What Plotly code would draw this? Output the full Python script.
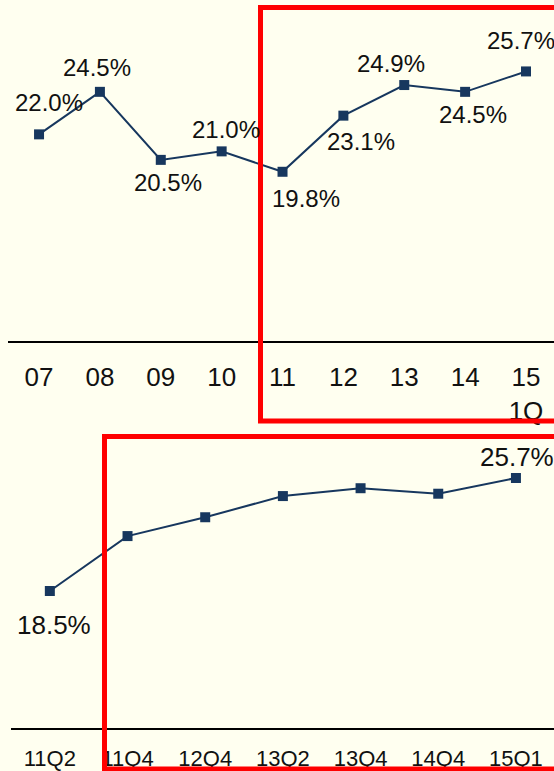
import plotly.graph_objects as go

# ---- data ----
years = ["07", "08", "09", "10", "11", "12", "13", "14", "15"]
year_ticks = ["07", "08", "09", "10", "11", "12", "13", "14", "15<br>1Q"]
year_vals = [22.0, 24.5, 20.5, 21.0, 19.8, 23.1, 24.9, 24.5, 25.7]

quarters = ["11Q2", "11Q4", "12Q4", "13Q2", "13Q4", "14Q4", "15Q1"]
quarter_vals = [18.5, 22.0, 23.2, 24.55, 25.05, 24.7, 25.7]
quarter_labeled = [True, False, False, False, False, False, True]

# label offsets (pixels) - styling only
year_offsets = [(10, -32), (-3, -24), (7, 23), (4, -22), (23, 27), (18, 26), (-13, -22), (8, 23), (-5, -31)]
quarter_offsets = [(4, 34), None, None, None, None, None, (1, -21)]

W, H = 554, 771
BG = "#FFFFF0"
LINE = "#17375E"
FONT = "Arial, Liberation Sans, sans-serif"

fig = go.Figure()
fig.add_trace(go.Scatter(x=list(range(len(years))), y=year_vals, mode="lines+markers",
                         line=dict(color=LINE, width=2),
                         marker=dict(symbol="square", size=10, color=LINE),
                         xaxis="x", yaxis="y", showlegend=False, hoverinfo="skip"))
fig.add_trace(go.Scatter(x=list(range(len(quarters))), y=quarter_vals, mode="lines+markers",
                         line=dict(color=LINE, width=2),
                         marker=dict(symbol="square", size=10, color=LINE),
                         xaxis="x2", yaxis="y2", showlegend=False, hoverinfo="skip"))

ann = []
for i, (v, off) in enumerate(zip(year_vals, year_offsets)):
    ann.append(dict(x=i, y=v, xref="x", yref="y", text=f"{v:.1f}%", showarrow=False,
                    xshift=off[0], yshift=-off[1], font=dict(size=24, color="#111", family=FONT)))
for i, (v, lab, off) in enumerate(zip(quarter_vals, quarter_labeled, quarter_offsets)):
    if lab:
        ann.append(dict(x=i, y=v, xref="x2", yref="y2", text=f"{v:.1f}%", showarrow=False,
                        xshift=off[0], yshift=-off[1], font=dict(size=26, color="#111", family=FONT)))

fig.update_layout(
    width=W, height=H, margin=dict(l=0, r=0, t=0, b=0),
    paper_bgcolor=BG, plot_bgcolor=BG,
    annotations=ann,
    xaxis=dict(domain=[8 / W, 1], range=[-0.51, 8.46],
               tickvals=list(range(len(years))), ticktext=year_ticks,
               showline=True, linecolor="black", linewidth=2, showgrid=False, zeroline=False,
               ticks="outside", ticklen=12, tickcolor=BG,
               tickfont=dict(size=26, color="#111", family=FONT), anchor="y"),
    yaxis=dict(domain=[1 - 341 / H, 1], range=[9.85, 29.9], visible=False, anchor="x"),
    xaxis2=dict(domain=[11 / W, 1], range=[-0.50, 6.49],
                tickvals=list(range(len(quarters))), ticktext=quarters,
                showline=True, linecolor="black", linewidth=2, showgrid=False, zeroline=False,
                ticks="outside", ticklen=10, tickcolor=BG,
                tickfont=dict(size=22, color="#111", family=FONT), anchor="y2"),
    yaxis2=dict(domain=[1 - 728 / H, 1 - 414 / H], range=[9.77, 29.78], visible=False, anchor="x2"),
)

# red highlight boxes
fig.add_shape(type="rect", xref="paper", yref="paper",
              x0=260.5 / W, x1=1.05, y0=1 - 421 / H, y1=1 - 7.5 / H,
              line=dict(color="#FF0000", width=5), fillcolor="rgba(0,0,0,0)")
fig.add_shape(type="rect", xref="paper", yref="paper",
              x0=104.5 / W, x1=1.05, y0=1 - 769 / H, y1=1 - 436.5 / H,
              line=dict(color="#FF0000", width=5), fillcolor="rgba(0,0,0,0)")

fig.write_html("out.html")
